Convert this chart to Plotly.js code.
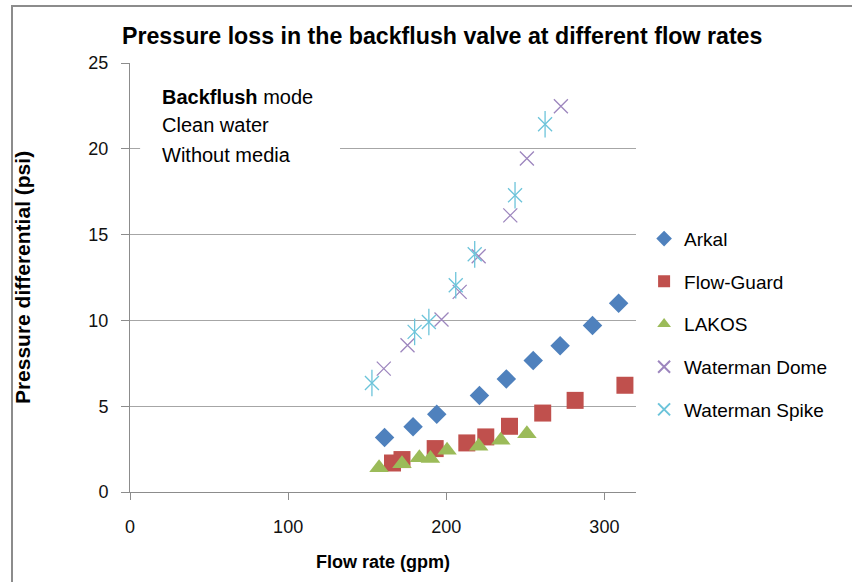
<!DOCTYPE html>
<html>
<head>
<meta charset="utf-8">
<script src="https://cdn.plot.ly/plotly-3.0.1.min.js"></script>
<style>
html,body{margin:0;padding:0;background:#fff;}
#wrap{position:relative;width:852px;height:582px;overflow:hidden;}
#chart{width:852px;height:582px;}
#frame{position:absolute;left:11px;top:5px;width:900px;height:700px;border-left:2px solid #8c8c8c;border-top:2px solid #8c8c8c;pointer-events:none;}
</style>
</head>
<body>
<div id="wrap"><div id="chart"></div><div id="frame"></div></div>
<script>
// Data
const arkalX = [161, 179, 194, 221, 238, 255, 272, 292.5, 309];
const arkalY = [3.17, 3.8, 4.53, 5.62, 6.59, 7.67, 8.53, 9.7, 11.0];

const flowGuardX = [166, 172, 193, 213, 225, 240, 261, 281.5, 313];
const flowGuardY = [1.69, 1.89, 2.53, 2.86, 3.21, 3.83, 4.6, 5.34, 6.22];

const lakosX = [157.5, 172, 183, 190, 200.5, 220.5, 234.5, 251];
const lakosY = [1.42, 1.65, 2.0, 1.95, 2.43, 2.66, 3.01, 3.4];

const domeX = [160.5, 175.5, 197, 208.5, 220.5, 240.5, 251, 272.5];
const domeY = [7.19, 8.55, 10.05, 11.66, 13.74, 16.12, 19.43, 22.48];

const spikeX = [153, 180, 189, 206, 218, 243.5, 262.5];
const spikeY = [6.35, 9.33, 9.91, 12.05, 13.85, 17.29, 21.43];

const yTicks = [0, 5, 10, 15, 20, 25];
const xTicks = [0, 100, 200, 300];

const FONT = "Liberation Sans, Arial, sans-serif";

const traces = [
  {name: 'Arkal', x: arkalX, y: arkalY, type: 'scatter', mode: 'markers', legendgroup: 'a',
   marker: {symbol: 'diamond', size: 15, color: '#4F81BD'}},
  {name: 'Flow-Guard', x: flowGuardX, y: flowGuardY, type: 'scatter', mode: 'markers', legendgroup: 'b',
   marker: {symbol: 'square', size: 17, color: '#C0504D'}},
  {name: 'LAKOS', x: lakosX, y: lakosY, type: 'scatter', mode: 'markers', legendgroup: 'c',
   marker: {symbol: 'triangle-up', size: 17, color: '#9BBB59'}},
  {name: 'Waterman Dome', x: domeX, y: domeY, type: 'scatter', mode: 'markers', legendgroup: 'd',
   marker: {symbol: 'x-thin-open', size: 14, color: '#9D86BE', line: {color: '#9D86BE', width: 1.3}}},
  {name: 'Waterman Spike', x: spikeX, y: spikeY, type: 'scatter', mode: 'markers', legendgroup: 'e',
   marker: {symbol: 'x-thin-open', size: 14, color: '#6CC4DA', line: {color: '#6CC4DA', width: 1.3}}},
  {name: 'Waterman Spike', x: spikeX, y: spikeY, type: 'scatter', mode: 'markers', legendgroup: 'e', showlegend: false,
   marker: {symbol: 'line-ns-open', size: 19, color: '#6CC4DA', line: {color: '#6CC4DA', width: 1.3}}}
];

const layout = {
  width: 852, height: 582,
  paper_bgcolor: '#ffffff', plot_bgcolor: '#ffffff',
  margin: {l: 130, r: 216, t: 63, b: 90, pad: 0},
  font: {family: FONT, size: 16, color: '#000'},
  title: {text: '<b>Pressure loss in the backflush valve at different flow rates</b>',
          x: 0.519, xanchor: 'center', xref: 'container', y: 0.938, yanchor: 'middle',
          font: {family: FONT, size: 23.2, color: '#000'}},
  xaxis: {range: [0, 320], tickvals: xTicks, ticktext: xTicks.map(String),
          showgrid: false, zeroline: false, showline: true, linecolor: '#8c8c8c', linewidth: 1,
          ticks: 'outside', ticklen: 7, tickcolor: '#8c8c8c', tickfont: {size: 18, color: '#111'},
          ticklabelstandoff: 11,
          title: {text: '<b>Flow rate (gpm)</b>', font: {size: 18}, standoff: 19}},
  yaxis: {range: [0, 25], tickvals: yTicks, ticktext: yTicks.map(String),
          showgrid: true, gridcolor: '#a6a6a6', gridwidth: 1, zeroline: false,
          showline: true, linecolor: '#8c8c8c', linewidth: 1,
          ticks: 'outside', ticklen: 8, tickcolor: '#8c8c8c', tickfont: {size: 18, color: '#111'},
          ticklabelstandoff: 9,
          title: {text: '<b>Pressure differential (psi)</b>', font: {size: 21}, standoff: 52}},
  showlegend: true,
  legend: {x: 1.016, xanchor: 'left', y: 0.391, yanchor: 'middle', tracegroupgap: 15,
           font: {size: 19, color: '#000'}, bgcolor: 'rgba(0,0,0,0)', itemwidth: 30, itemsizing: 'constant'},
  shapes: [
    {type: 'rect', xref: 'paper', yref: 'paper', x0: 0.02, x1: 0.415, y0: 0.74, y1: 0.965,
     fillcolor: '#ffffff', line: {width: 0}, layer: 'above'}
  ],
  annotations: [
    {xref: 'paper', yref: 'paper', x: 0.059, y: 0.92, xanchor: 'left', yanchor: 'middle', showarrow: false,
     text: '<b>Backflush</b> mode', font: {size: 20, color: '#000'}},
    {xref: 'paper', yref: 'paper', x: 0.059, y: 0.855, xanchor: 'left', yanchor: 'middle', showarrow: false,
     text: 'Clean water', font: {size: 20, color: '#000'}},
    {xref: 'paper', yref: 'paper', x: 0.059, y: 0.785, xanchor: 'left', yanchor: 'middle', showarrow: false,
     text: 'Without media', font: {size: 20, color: '#000'}}
  ]
};

Plotly.newPlot('chart', traces, layout, {displayModeBar: false, staticPlot: true});
</script>
</body>
</html>
